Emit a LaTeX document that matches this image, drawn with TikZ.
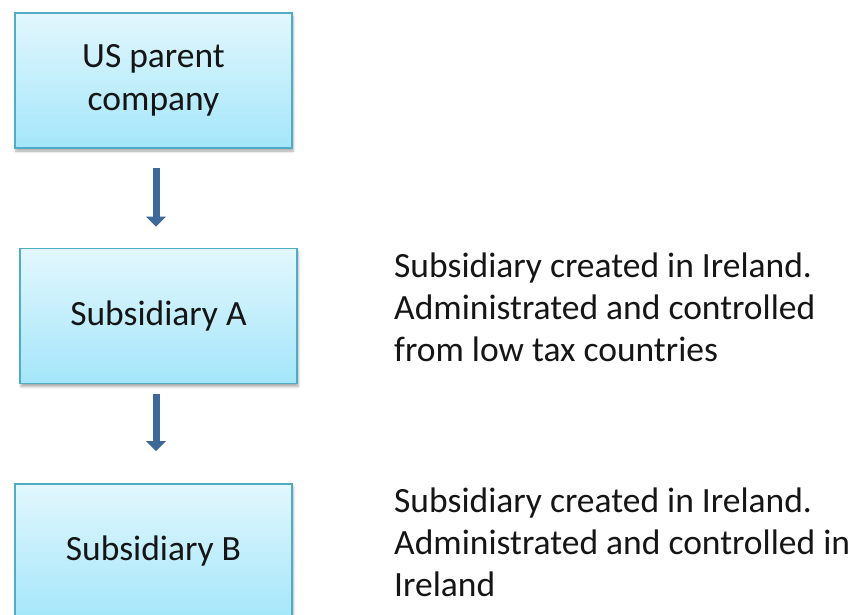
\documentclass[tikz,border=0pt]{standalone}
\usepackage{fontspec}
\setmainfont{Carlito}
\usetikzlibrary{arrows.meta,shadows.blur}
\definecolor{boxtop}{HTML}{E2F7FD}
\definecolor{boxbottom}{HTML}{A4E6FA}
\definecolor{boxedge}{HTML}{4EACC6}
\definecolor{flowblue}{HTML}{3E6898}
\definecolor{txt}{HTML}{151515}
\tikzset{
  entity/.style={rectangle, draw=boxedge, line width=1.6pt,
    top color=boxtop, bottom color=boxbottom,
    minimum width=277pt, minimum height=135pt, inner sep=0pt,
    align=center, text=txt,
    font=\fontsize{35.5}{42.5}\selectfont,
    blur shadow={shadow xshift=1pt, shadow yshift=-3pt,
      shadow blur radius=2.5pt, shadow opacity=35}},
  note/.style={anchor=north west, align=left, inner sep=0pt, text=txt,
    font=\fontsize{35.5}{42}\selectfont},
  flowarrow/.style={draw=flowblue, line width=7pt,
    -{Triangle[width=19pt,length=10pt]}}
}
\begin{document}
\begin{tikzpicture}[x=1pt,y=-1pt]
  \useasboundingbox (0,0) rectangle (854,614);
  \begin{scope}
    \clip (0,0) rectangle (854,614);
    \node[entity] (parent) at (153.5,80.5) {US parent\\company};
    \node[entity] (subA) at (158.5,316) {Subsidiary A};
    \node[entity] (subB) at (153.5,551.5) {Subsidiary B};
  \end{scope}

  \draw[flowarrow, shorten <=19pt, shorten >=21pt]
    ([xshift=2.5pt]parent.south) -- ([xshift=-2.5pt]subA.north);
  \draw[flowarrow, shorten <=10pt, shorten >=32pt]
    ([xshift=-2.5pt]subA.south) -- ([xshift=2.5pt]subB.north);

  \node[note] (noteA) at (394,253)
    {Subsidiary created in Ireland.\\Administrated and controlled\\from low tax countries};
  \node[note] (noteB) at (394,488)
    {Subsidiary created in Ireland.\\Administrated and controlled in\\Ireland};
\end{tikzpicture}
\end{document}
